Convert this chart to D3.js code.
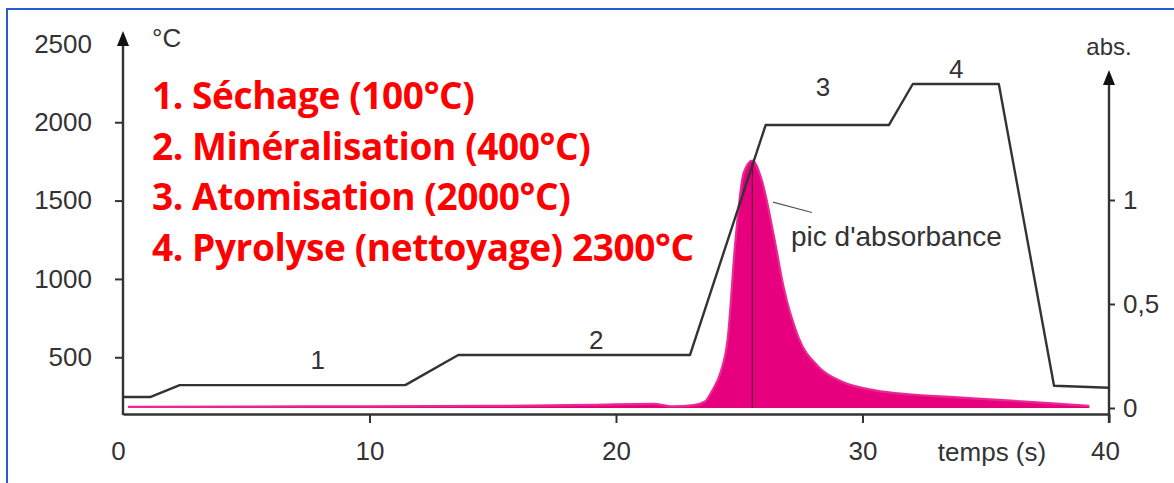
<!DOCTYPE html>
<html>
<head>
<meta charset="utf-8">
<script src="https://cdn.jsdelivr.net/npm/d3@7"></script>
<style>
  body { margin: 0; background: #fff; }
  svg { display: block; }
</style>
</head>
<body>
<svg id="chart" width="1174" height="483"></svg>
<script>
// temperature program of the furnace (°C vs s)
const tempTime  = [0, 1.1, 2.3, 11.45, 13.6, 23.0, 26.07, 31.07, 32.04, 35.53, 37.77, 40];
const tempValue = [246, 246, 322, 322, 514, 514, 1982, 1982, 2244, 2244, 318, 305];

// absorbance signal
const absTime  = [0.2, 5, 10, 15, 19, 21.5, 22.3, 23.15, 23.6, 23.92, 24.24, 24.53, 24.85, 25.18, 25.53,
                  25.9, 26.4, 26.8, 27.4, 28.2, 29.2, 30.5, 32, 34, 36, 38, 39.2];
const absValue = [0.005, 0.007, 0.008, 0.01, 0.015, 0.02, 0.008, 0.014, 0.03, 0.087, 0.17, 0.33, 0.81, 1.13, 1.19,
                  1.1, 0.83, 0.58, 0.34, 0.2, 0.125, 0.085, 0.065, 0.05, 0.035, 0.02, 0.01];

const xTicks = [0, 10, 20, 30, 40];
const tempTicks = [500, 1000, 1500, 2000, 2500];
const absTicks = [0, 0.5, 1];

const phaseLabels = ["1", "2", "3", "4"];
const phaseTime = [7.9, 19.2, 28.4, 33.8];
const phaseTemp = [482, 610, 2225, 2340];

const legendLines = [
    "1. Séchage (100°C)",
    "2. Minéralisation (400°C)",
    "3. Atomisation (2000°C)",
    "4. Pyrolyse (nettoyage) 2300°C"
];

const svg = d3.select("#chart");
const ink = "#333";
const magenta = "#e6007e";
const axisFont = "Liberation Sans, Arial, sans-serif";

const x = d3.scaleLinear().domain([0, 40]).range([123, 1109]);
const yT = d3.scaleLinear().domain([0, 2500]).range([435.6, 43.9]);
const yA = d3.scaleLinear().domain([0, 1]).range([408, 200]);
const axisY = 414;

// blue frame
svg.append("rect")
    .attr("x", 7).attr("y", 9)
    .attr("width", 1200).attr("height", 500)
    .attr("fill", "none")
    .attr("stroke", "#2a5bd0")
    .attr("stroke-width", 2);

// absorbance area + line
const absData = absTime.map((t, i) => ({ t, a: absValue[i] }));
svg.append("path")
    .datum(absData)
    .attr("fill", magenta)
    .attr("d", d3.area().x(d => x(d.t)).y0(yA(0)).y1(d => yA(d.a)).curve(d3.curveMonotoneX));
svg.append("path")
    .datum(absData)
    .attr("fill", "none")
    .attr("stroke", "#ea2a92")
    .attr("stroke-width", 2.2)
    .attr("d", d3.line().x(d => x(d.t)).y(d => yA(d.a)).curve(d3.curveMonotoneX));

// peak marker
const peak = absData.reduce((m, d) => d.a > m.a ? d : m);
svg.append("line")
    .attr("x1", x(peak.t)).attr("x2", x(peak.t))
    .attr("y1", yA(peak.a) + 3).attr("y2", yA(0))
    .attr("stroke", "#4a0a30").attr("stroke-width", 1);

// temperature program
const tempData = tempTime.map((t, i) => ({ t, v: tempValue[i] }));
svg.append("path")
    .datum(tempData)
    .attr("fill", "none")
    .attr("stroke", ink)
    .attr("stroke-width", 2.4)
    .attr("stroke-linejoin", "round")
    .attr("d", d3.line().x(d => x(d.t)).y(d => yT(d.v)));

// bottom axis
const gx = svg.append("g")
    .attr("transform", `translate(0,${axisY})`)
    .call(d3.axisBottom(x).tickValues(xTicks).tickSize(9).tickPadding(19).tickSizeOuter(0));
gx.select(".domain").attr("stroke", ink).attr("stroke-width", 2.4);
gx.selectAll(".tick line").attr("stroke", ink).attr("stroke-width", 2)
    .filter(d => d === 0).remove();
gx.selectAll("text").attr("fill", ink).attr("font-family", axisFont).attr("font-size", 26);
gx.selectAll(".tick text").filter(d => d === 0).attr("x", -5);
gx.selectAll(".tick text").filter(d => d === 40).attr("x", -4);

// left axis
const gl = svg.append("g")
    .attr("transform", `translate(${x(0)},0)`)
    .call(d3.axisLeft(yT).tickValues(tempTicks).tickFormat(d3.format("d"))
        .tickSize(8).tickPadding(23).tickSizeOuter(0));
gl.select(".domain").remove();
gl.selectAll(".tick line").attr("stroke", ink).attr("stroke-width", 2)
    .filter(d => d === 2500).remove();
gl.selectAll("text").attr("fill", ink).attr("font-family", axisFont).attr("font-size", 26);
svg.append("line")
    .attr("x1", x(0)).attr("x2", x(0))
    .attr("y1", axisY + 1).attr("y2", 40)
    .attr("stroke", ink).attr("stroke-width", 2.4);
svg.append("path")
    .attr("d", `M${x(0)},31 L${x(0) - 6},46 L${x(0) + 6},46 Z`)
    .attr("fill", "#111");

// right axis
const fr = d3.formatLocale({ decimal: ",", thousands: " ", grouping: [3], currency: ["", "€"] }).format("~g");
const gr = svg.append("g")
    .attr("transform", `translate(${x(40)},0)`)
    .call(d3.axisRight(yA).tickValues(absTicks).tickFormat(fr).tickSize(6).tickPadding(8).tickSizeOuter(0));
gr.select(".domain").remove();
gr.selectAll(".tick line").attr("stroke", ink).attr("stroke-width", 2);
gr.selectAll("text").attr("fill", ink).attr("font-family", axisFont).attr("font-size", 26);
svg.append("line")
    .attr("x1", x(40)).attr("x2", x(40))
    .attr("y1", 423).attr("y2", 78)
    .attr("stroke", ink).attr("stroke-width", 2.4);
svg.append("path")
    .attr("d", `M${x(40)},70 L${x(40) - 6},85 L${x(40) + 6},85 Z`)
    .attr("fill", "#111");

// axis titles
svg.append("text").attr("x", 152).attr("y", 47)
    .attr("font-family", axisFont).attr("font-size", 26).attr("fill", ink)
    .text("°C");
svg.append("text").attr("x", x(40)).attr("y", 55)
    .attr("text-anchor", "middle")
    .attr("font-family", axisFont).attr("font-size", 24).attr("fill", ink)
    .text("abs.");
svg.append("text").attr("x", 992).attr("y", 461)
    .attr("text-anchor", "middle")
    .attr("font-family", axisFont).attr("font-size", 26).attr("fill", ink)
    .text("temps (s)");

// phase numbers
svg.selectAll(".phase")
    .data(phaseLabels)
    .enter()
    .append("text")
        .attr("class", "phase")
        .attr("x", (d, i) => x(phaseTime[i]))
        .attr("y", (d, i) => yT(phaseTemp[i]))
        .attr("dy", "0.35em")
        .attr("text-anchor", "middle")
        .attr("font-family", axisFont).attr("font-size", 26).attr("fill", ink)
        .text(d => d);

// peak annotation
svg.append("line")
    .attr("x1", x(26.37)).attr("y1", yA(0.99))
    .attr("x2", x(27.95)).attr("y2", yA(0.94))
    .attr("stroke", "#555").attr("stroke-width", 1.2);
svg.append("text")
    .attr("x", x(27.1)).attr("y", yA(0.78))
    .attr("font-family", axisFont).attr("font-size", 28).attr("fill", ink)
    .text("pic d'absorbance");

// red legend
svg.selectAll(".legend")
    .data(legendLines)
    .enter()
    .append("text")
        .attr("class", "legend")
        .attr("x", 152)
        .attr("y", (d, i) => 109 + i * 50.5)
        .attr("font-family", "Open Sans, Lato, sans-serif")
        .attr("font-weight", "bold")
        .attr("font-size", 37)
        .attr("letter-spacing", -0.4)
        .attr("fill", "#ff0000")
        .text(d => d);
</script>
</body>
</html>
